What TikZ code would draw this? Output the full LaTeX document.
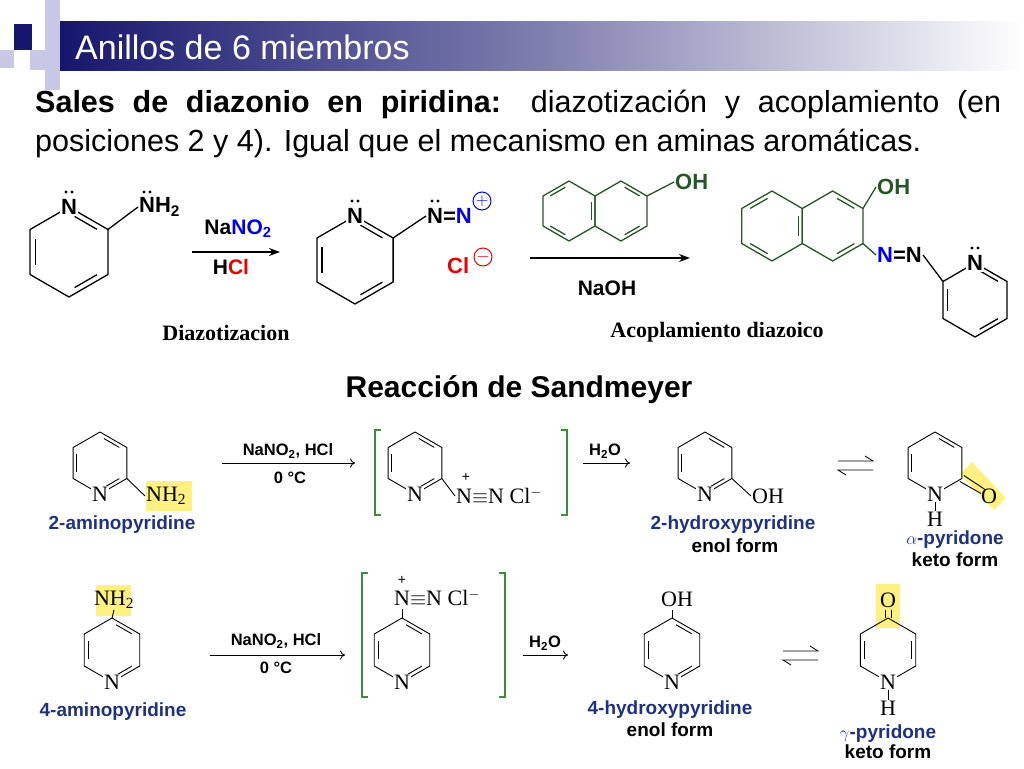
\documentclass[tikz,border=0pt]{standalone}
\usepackage{fontspec}
\setmainfont{Liberation Sans}
\newfontfamily\tms{Liberation Serif}
\usetikzlibrary{calc,arrows.meta}
\definecolor{titlenavy}{RGB}{22,22,110}
\definecolor{lav}{RGB}{200,200,230}
\definecolor{azoblue}{RGB}{0,0,230}
\definecolor{clred}{RGB}{235,0,0}
\definecolor{naph}{RGB}{40,85,40}
\definecolor{lblnavy}{RGB}{30,50,125}
\definecolor{brack}{RGB}{60,140,60}
\definecolor{hilite}{RGB}{255,240,130}

% vertex-up hexagon: name, cx, cy, r, inner double edges, style
\newcommand{\ring}[6]{%
  \foreach \i in {0,...,5}
    \coordinate (#1-\i) at ({#2+#4*cos(-90+60*\i)},{#3+#4*sin(-90+60*\i)});
  \draw[#6] (#1-0) -- (#1-1) -- (#1-2) -- (#1-3) -- (#1-4) -- (#1-5) -- cycle;
  \foreach \e in {#5}
    \draw[#6] ({#2+0.8*#4*cos(-90+60*\e+9)},{#3+0.8*#4*sin(-90+60*\e+9)})
      -- ({#2+0.8*#4*cos(-30+60*\e-9)},{#3+0.8*#4*sin(-30+60*\e-9)});
}
% lone pair above a point
\newcommand{\lp}[2]{\fill ($(#1)+(#2,-15)$) circle (1.7) ($(#1)+(#2+6,-15)$) circle (1.7);}

\tikzset{
  bondA/.style={line width=1.3pt,line join=round},
  bondG/.style={bondA,color=naph},
  bondS/.style={line width=0.9pt,line join=round},
  atomA/.style={fill=white,inner sep=1pt,font=\bfseries\fontsize{22}{22}\selectfont},
  atomS/.style={fill=white,inner sep=1pt,font=\tms\fontsize{22}{22}\selectfont},
  condA/.style={font=\bfseries\fontsize{21}{21}\selectfont},
  condS/.style={font=\bfseries\fontsize{16.5}{16.5}\selectfont},
  namelbl/.style={font=\bfseries\fontsize{19}{21}\selectfont,text=lblnavy},
  formlbl/.style={font=\bfseries\fontsize{19}{21}\selectfont},
  capt/.style={font=\tms\bfseries\fontsize{22}{22}\selectfont},
  fatarrow/.style={line width=1.4pt,-{Stealth[length=11pt,width=8pt]}},
  thinarrow/.style={line width=0.9pt,-{To[length=5pt,width=9pt]}},
  bracket/.style={line width=1.2pt,color=brack},
  charge/.style={circle,draw,line width=1pt,inner sep=0pt,minimum size=18pt,font=\fontsize{17}{17}\selectfont},
}

\begin{document}
\begin{tikzpicture}[x=1pt,y=-1pt]
\useasboundingbox (0,0) rectangle (1024,768);

% header
\fill[lav] (45,0) rectangle (60,90);
\fill[lav] (30,50) rectangle (46,70);
\fill[lav] (0,50) rectangle (14,68);
\shade[left color=titlenavy,right color=white,middle color=titlenavy!55] (60,22) rectangle (1024,70);
\fill[titlenavy] (14,24) rectangle (32,50);
\node[anchor=west,text=white,font=\fontsize{34}{34}\selectfont,inner sep=0] (title) at (75,47) {Anillos de 6 miembros};

\node[anchor=north west,text width=966pt,align=justify,inner sep=0,
      font=\fontsize{30.5}{39}\selectfont] (intro) at (35,90)
  {\textbf{Sales de diazonio en piridina:} diazotización y acoplamiento (en\linebreak
   posiciones 2 y 4). Igual que el mecanismo en aminas aromáticas.};

%% diazotizacion
\ring{pa}{69}{252}{45}{0,2,4}{bondA}
\node[atomA] (paN) at (pa-0) {N};
\lp{pa-0}{-3}
\node[atomA,anchor=west] (paNH) at (138,207) {NH\textsubscript{2}};
\lp{paNH.west}{6}
\draw[bondA] (pa-1) -- (paNH.west);

\coordinate (ar1s) at (192,252);
\coordinate (ar1e) at (280,252);
\draw[fatarrow] (ar1s) -- (ar1e);
\node[condA] (nano) at (238,229) {Na\textcolor{azoblue}{NO\textsubscript{2}}};
\node[condA] (hcl) at (231,267) {H\textcolor{clred}{Cl}};

\ring{pb}{355}{260}{44}{0,2,4}{bondA}
\node[atomA] (pbN) at (pb-0) {N};
\lp{pb-0}{-3}
\node[atomA,anchor=west,fill=none] (pbNN) at (426,216) {N=\textcolor{azoblue}{N}};
\lp{pbNN.west}{6}
\draw[bondA] (pb-1) -- (pbNN.west);
\node[charge,draw=azoblue,text=azoblue] (plusA) at (482,201) {$+$};
\node[atomA,anchor=west,fill=none,text=clred] (clA) at (446,266) {Cl};
\node[charge,draw=clred,text=clred] (minusA) at (483,257) {$-$};
\node[capt] (diaz) at (226,333) {Diazotizacion};

%% acoplamiento
\ring{nl}{569}{211}{30}{1,3,5}{bondG}
\ring{nr}{620.96}{211}{30}{0,2}{bondG}
\node[atomA,anchor=west,fill=none,text=naph] (ohA) at (674,182) {OH};
\draw[bondG] (nr-1) -- (ohA.west);

\coordinate (ar2s) at (530,258);
\coordinate (ar2e) at (690,258);
\draw[fatarrow] (ar2s) -- (ar2e);
\node[condA] (naoh) at (607,288) {NaOH};

\ring{ql}{772}{226}{35}{1,3,5}{bondG}
\ring{qr}{832.62}{226}{35}{0,2}{bondG}
\node[atomA,anchor=west,fill=none,text=naph] (ohB) at (876,187) {OH};
\draw[bondG] (qr-1) -- (ohB.west);
\node[atomA,anchor=west,fill=none] (azo) at (876,255) {\textcolor{azoblue}{N}=N};
\draw[bondG] (qr-2) -- (azo.west);
\ring{pc}{975}{300}{37}{0,2,4}{bondA}
\node[atomA] (pcN) at (pc-0) {N};
\lp{pc-0}{-3}
\draw[bondA] (azo.east) -- (pc-5);
\node[capt] (acop) at (717,332) {Acoplamiento diazoico};

\node[font=\bfseries\fontsize{30}{30}\selectfont] (sandm) at (519,390) {Reacción de Sandmeyer};

%% Sandmeyer, 2-position
\fill[hilite] (146,481) rectangle (192,511);
\ring{sa}{100}{463}{31}{0,2,4}{bondS}
\node[atomS] (saN) at (sa-3) {N};
\node[atomS,anchor=west,fill=none] (saNH) at (145,496) {NH\textsubscript{2}};
\draw[bondS] (sa-2) -- (saNH.west);
\node[namelbl] (saL) at (122,525) {2-aminopyridine};

\coordinate (a1s) at (222,463);
\coordinate (a1e) at (355,463);
\draw[thinarrow] (a1s) -- (a1e);
\node[condS] (c1a) at (288,451) {NaNO\textsubscript{2}, HCl};
\node[condS] (c1b) at (290,478) {0 °C};

\draw[bracket] (381,430) -- (375,430) -- (375,515) -- (381,515);
\draw[bracket] (561,430) -- (567,430) -- (567,515) -- (561,515);
\ring{sb}{415}{463}{31}{0,2,4}{bondS}
\node[atomS] (sbN) at (sb-3) {N};
\node[atomS,anchor=west,fill=none] (sbNN) at (455,496) {N$\equiv$N Cl$^{-}$};
\draw[bondS] (sb-2) -- (sbNN.west);
\node[font=\fontsize{14}{14}\selectfont] (sbP) at (466,477) {+};

\coordinate (a2s) at (583,463);
\coordinate (a2e) at (630,463);
\draw[thinarrow] (a2s) -- (a2e);
\node[condS] (c2) at (605,451) {H\textsubscript{2}O};

\ring{sc}{705}{463}{31}{0,2,4}{bondS}
\node[atomS] (scN) at (sc-3) {N};
\node[atomS,anchor=west,fill=none] (scOH) at (751,496) {OH};
\draw[bondS] (sc-2) -- (scOH.west);
\node[namelbl] (scL) at (733,525) {2-hydroxypyridine};
\node[formlbl] (scF) at (735,546) {enol form};

\draw[line width=0.8pt] (838,461) -- (873,461) -- (865,456);
\draw[line width=0.8pt] (873,470) -- (838,470) -- (846,475);

\fill[hilite] (960,474) -- (972,462) -- (1006,498) -- (994,510) -- cycle;
\ring{sd}{935}{463}{31}{0,4}{bondS}
\node[atomS] (sdN) at (sd-3) {N};
\node[atomS,fill=none] (sdH) at (935,519) {H};
\draw[bondS] (sdN) -- (sdH);
\node[atomS,fill=none] (sdO) at (989,496) {O};
\draw[bondS] ($(sd-2)+(-2,3)$) -- ($(sdO.north west)+(1,6)$);
\draw[bondS] ($(sd-2)+(2,-3)$) -- ($(sdO.north west)+(5,2)$);
\node[namelbl] (sdL) at (955,540) {$\alpha$-pyridone};
\node[formlbl] (sdF) at (955,560) {keto form};

%% Sandmeyer, 4-position
\fill[hilite] (96,585) rectangle (131,616);
\ring{se}{112}{650}{32}{0,2,4}{bondS}
\node[atomS] (seN) at (se-3) {N};
\node[atomS,fill=none] (seNH) at (114,600) {NH\textsubscript{2}};
\draw[bondS] (se-0) -- (seNH.south);
\node[namelbl] (seL) at (113,712) {4-aminopyridine};

\coordinate (a3s) at (210,655);
\coordinate (a3e) at (345,655);
\draw[thinarrow] (a3s) -- (a3e);
\node[condS] (c3a) at (276,641) {NaNO\textsubscript{2}, HCl};
\node[condS] (c3b) at (276,668) {0 °C};

\draw[bracket] (368,573) -- (362,573) -- (362,697) -- (368,697);
\draw[bracket] (499,573) -- (505,573) -- (505,697) -- (499,697);
\ring{sf}{402}{650}{32}{0,2,4}{bondS}
\node[atomS] (sfN) at (sf-3) {N};
\node[atomS,anchor=west,fill=none] (sfNN) at (393,598) {N$\equiv$N Cl$^{-}$};
\draw[bondS] (sf-0) -- (402,609);
\node[font=\fontsize{14}{14}\selectfont] (sfP) at (402,580) {+};

\coordinate (a4s) at (523,655);
\coordinate (a4e) at (568,655);
\draw[thinarrow] (a4s) -- (a4e);
\node[condS] (c4) at (545,643) {H\textsubscript{2}O};

\ring{sg}{672}{650}{32}{0,2,4}{bondS}
\node[atomS] (sgN) at (sg-3) {N};
\node[atomS,fill=none] (sgOH) at (677,599) {OH};
\draw[bondS] (sg-0) -- (672,610);
\node[namelbl] (sgL) at (670,710) {4-hydroxypyridine};
\node[formlbl] (sgF) at (670,730) {enol form};

\draw[line width=0.8pt] (783,651) -- (818,651) -- (810,646);
\draw[line width=0.8pt] (818,660) -- (783,660) -- (791,665);

\fill[hilite] (876,584) rectangle (900,628);
\ring{sh}{888}{650}{32}{1,4}{bondS}
\node[atomS] (shN) at (sh-3) {N};
\node[atomS,fill=none] (shH) at (888,708) {H};
\draw[bondS] (shN) -- (shH);
\node[atomS,fill=none] (shO) at (888,600) {O};
\draw[bondS] (885,618) -- (885,610);
\draw[bondS] (891,618) -- (891,610);
\node[namelbl] (shL) at (888,734) {$\gamma$-pyridone};
\node[formlbl] (shF) at (888,752) {keto form};
\end{tikzpicture}
\end{document}
